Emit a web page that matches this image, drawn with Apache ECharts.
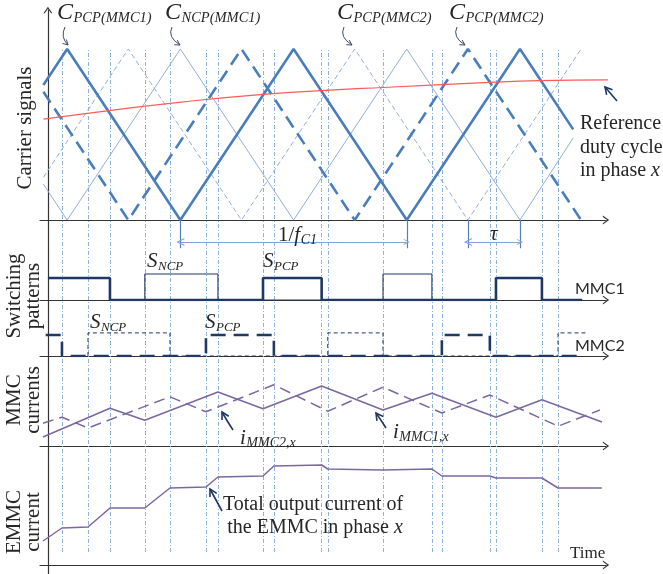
<!DOCTYPE html>
<html><head><meta charset="utf-8">
<script src="https://cdn.jsdelivr.net/npm/echarts@6/dist/echarts.min.js"></script>
<style>html,body{margin:0;padding:0;background:#fff}#c{width:663px;height:574px}</style>
</head><body><div id="c"></div>
<script>
// ---------- DATA (time in % of one carrier period; carrier amplitude 0..1) ----------
const carrierPCP1 = [[-2,0.79],[8.5,1],[58.5,0],[108.5,1],[158.5,0],[208.5,1],[232,0.53]];
const carrierNCP1 = [[-2,0.21],[8.5,0],[58.5,1],[108.5,0],[158.5,1],[208.5,0],[232,0.48]];
const carrierPCP2 = [[-2,0.75],[35.5,0],[85.5,1],[135.5,0],[185.5,1],[235.5,0]];
const carrierNCP2 = [[-2,0.25],[35.5,1],[85.5,0],[135.5,1],[185.5,0],[235.5,1]];
const refDuty     = [[-2,0.59],[27,0.64],[59,0.69],[95,0.735],[125,0.76],[148,0.775],[195,0.805],[217,0.815],[258,0.82]];
const switchTimes = [6.2,17.7,27.4,42.8,53.9,69.8,75.1,95,99.8,120.9,123.6,148,169.6,174,195.2,197.9,218.2,225.3];
const periodMarks = [58.5,158.5];   // 1/fC1
const tauMarks    = [185.5,208.5];  // tau
// switching patterns (0 = off, level = on)
const sPCP1 = [[0,1],[27.4,1],[27.4,0],[95,0],[95,1],[120.9,1],[120.9,0],[197.9,0],[197.9,1],[218.2,1],[218.2,0],[236,0]];
const sNCP1 = [[42.8,0],[42.8,1.18],[75.1,1.18],[75.1,0],[148,0],[148,1.18],[169.6,1.18],[169.6,0]];
const sPCP2 = [[-1,1],[6.2,1],[6.2,0],[69.8,0],[69.8,1],[99.8,1],[99.8,0],[174,0],[174,1],[195.2,1],[195.2,0],[235,0]];
const sNCP2 = [[17.7,0],[17.7,1.1],[53.9,1.1],[53.9,0],[123.6,0],[123.6,1.1],[148,1.1],[148,0],[225.3,0],[225.3,1.1],[238,1.1]];
// MMC currents
const iMMC1 = [[-2.2,0.15],[27.4,0.63],[42.8,0.43],[75.1,0.9],[95,0.62],[120.9,1.0],[148,0.6],[169.6,0.88],[197.9,0.48],[218.2,0.77],[244.7,0.4]];
const iMMC2 = [[-2.2,0.38],[6.2,0.48],[17.7,0.3],[53.9,0.82],[69.8,0.57],[99.8,1.02],[123.6,0.58],[148,0.98],[174,0.55],[195.2,0.85],[225.3,0.33],[243.8,0.6]];
// EMMC output current
const iEMMC = [[-2.2,0.24],[6.2,0.37],[17.7,0.38],[27.4,0.57],[42.8,0.57],[53.9,0.77],[69.8,0.78],[75.1,0.88],[95,0.89],[99.8,0.99],[120.9,1.0],[123.6,0.96],[148,0.95],[169.6,0.96],[174,0.89],[195.2,0.89],[197.9,0.87],[218.2,0.87],[225.3,0.77],[244.7,0.77]];

// ---------- STYLE ----------
const SERIF = "'Liberation Serif','Times New Roman',serif";
const TXT = '#262626', NAVY = '#1f3864', BLUE = '#4a7ebb', LBLUE = '#8fb0dc',
      PURPLE = '#7b68a0', RED = '#ff5a5a', VLINE = '#8db1dd', AXIS = '#333';
const CHEV = 'path://M0,7L5,0L10,7L8.5,7L5,2.2L1.5,7Z';
const tMin = -3.5, tMax = 246.5;

const grids = [
  {left:40,right:57,top:10,height:240},
  {left:40,right:57,top:250,height:50},
  {left:40,right:57,top:300,height:56},
  {left:40,right:57,top:356,height:90},
  {left:40,right:57,top:446,height:128},
  {left:40,right:57,top:50,height:502}
];
const yRanges = [[-0.175,1.228],[0,2.273],[0,2.667],[0,1.5],[-0.09,1.19],[0,1]];

const xAxes = grids.map((g,i)=>({
  type:'value', gridIndex:i, min:tMin, max:tMax, show: i<5,
  axisLine:{show:true,onZero:true,symbol:['none',CHEV],symbolSize:[9,7],lineStyle:{color:AXIS,width:1.2}},
  axisTick:{show:false},axisLabel:{show:false},splitLine:{show:false}
}));
const yAxes = grids.map((g,i)=>({
  type:'value', gridIndex:i, min:yRanges[i][0], max:yRanges[i][1], show: i<5,
  axisLine:{show:true,onZero:true,symbol: i===0?['none',CHEV]:'none',symbolSize:[9,7],lineStyle:{color:AXIS,width:1.2}},
  axisTick:{show:false},axisLabel:{show:false},splitLine:{show:false}
}));

function line(data, gi, ls, extra){
  return Object.assign({type:'line', xAxisIndex:gi, yAxisIndex:gi, data, showSymbol:false, symbol:'none',
    lineStyle:ls, silent:true, z:3}, extra||{});
}

const series = [
  {type:'lines', coordinateSystem:'cartesian2d', xAxisIndex:5, yAxisIndex:5, silent:true, z:1,
   lineStyle:{color:VLINE,width:1,type:[4,2,1,2],opacity:1},
   data: switchTimes.map(t=>({coords:[[t,0],[t,1]]}))},
  line(carrierNCP2,0,{color:LBLUE,width:1,type:[5,3]}),
  line(carrierNCP1,0,{color:LBLUE,width:1}),
  line(carrierPCP2,0,{color:BLUE,width:2.6,type:[13,7]}),
  line(carrierPCP1,0,{color:BLUE,width:2.6}),
  line(refDuty,0,{color:RED,width:1.2},{smooth:true,clip:false}),
  {type:'lines', coordinateSystem:'cartesian2d', xAxisIndex:0, yAxisIndex:0, silent:true, z:2,
   lineStyle:{color:'#5b7db5',width:1.2,opacity:1},
   data: periodMarks.concat(tauMarks).map(t=>({coords:[[t,0],[t,-0.165]]}))},
  {type:'lines', coordinateSystem:'cartesian2d', xAxisIndex:0, yAxisIndex:0, silent:true, z:2,
   symbol:[CHEV,CHEV], symbolSize:[8,6],
   lineStyle:{color:'#7fa3d6',width:1,opacity:1},
   data:[{coords:[[periodMarks[0],-0.128],[periodMarks[1],-0.128]]},{coords:[[tauMarks[0],-0.128],[tauMarks[1],-0.128]]}]},
  line(sNCP1,1,{color:NAVY,width:1.1}),
  line(sPCP1,1,{color:NAVY,width:2.6}),
  line(sNCP2,2,{color:NAVY,width:1,type:[4,3]}),
  line(sPCP2,2,{color:NAVY,width:2.6,type:[15,8]}),
  line(iMMC1,3,{color:PURPLE,width:1.5}),
  line(iMMC2,3,{color:PURPLE,width:1.5,type:[11,6]}),
  line(iEMMC,4,{color:PURPLE,width:1.5})
];

// ---------- ANNOTATIONS ----------
const mctx = document.createElement('canvas').getContext('2d');
function tw(font,s){ mctx.font = font; return mctx.measureText(s).width; }
function txt(s, x, base, size, italic, align){
  const f = (italic?'italic ':'') + size + 'px ' + SERIF;
  return {type:'text', x, y: base - 0.32*size, z:10, style:{text:s, font:f, fill:TXT,
    align: align||'left', textAlign: align||'left', verticalAlign:'middle', textVerticalAlign:'middle'}};
}
function subLabel(x, base, main, sub, ms, ss, mainItalic){
  const mf = ((mainItalic===false)?'':'italic ') + ms + 'px ' + SERIF;
  const w = tw(mf, main);
  return [txt(main, x, base, ms, mainItalic!==false), txt(sub, x + w + 0.5, base + 3, ss, true)];
}
function arrow(x1,y1,cx,cy,x2,y2,color,width,head){
  const dx = x2-cx, dy = y2-cy, L = Math.hypot(dx,dy), ux = dx/L, uy = dy/L;
  const nx = -uy, ny = ux, h = head||6;
  return [
    {type:'bezierCurve', z:10, shape:{x1,y1,x2,y2,cpx1:cx,cpy1:cy}, style:{stroke:color,lineWidth:width,fill:null}},
    {type:'polyline', z:10, shape:{points:[[x2-h*ux+h*0.55*nx, y2-h*uy+h*0.55*ny],[x2,y2],[x2-h*ux-h*0.55*nx, y2-h*uy-h*0.55*ny]]},
     style:{stroke:color,lineWidth:width,fill:null}}
  ];
}
function rot(s, x, y){
  return {type:'text', x, y, rotation:Math.PI/2, z:10, style:{text:s, font:'21px '+SERIF, fill:TXT, lineHeight:19,
    align:'center', textAlign:'center', verticalAlign:'middle', textVerticalAlign:'middle'}};
}

const g = [];
g.push(rot('Carrier signals',25,128), rot('Switching\npatterns',24,296), rot('MMC\ncurrents',24,400), rot('EMMC\ncurrent',24,522));
[[57,'PCP(MMC1)'],[165,'NCP(MMC1)'],[337,'PCP(MMC2)'],[449,'PCP(MMC2)']].forEach(([x,s])=>g.push(...subLabel(x,20,'C',s,24,14.5)));
const AC = '#3b4a68';
g.push(...arrow(65,27,60,37,68,45,AC,1,5), ...arrow(172,27,167,37,180,45,AC,1,5),
       ...arrow(344,27,339,37,352,45,AC,1,5), ...arrow(457,27,452,37,465,45,AC,1,5));
g.push(txt('Reference',580,130,20), txt('duty cycle',580,154,20), txt('in phase ',580,177,20));
g.push(txt('x',580+tw('20px '+SERIF,'in phase '),177,20,true));
g.push(...arrow(617,101,611,94,605,87,NAVY,1.6,7));
// 1/fC1 and tau
{ const a = tw('21px '+SERIF,'1/'), b = tw('italic 21px '+SERIF,'f');
  g.push(txt('1/',278,242,21), txt('f',278+a,242,21,true), txt('C1',278+a+b+0.5,245,14,true)); }
g.push(txt('τ',490,241,21,true));
// switching labels
g.push(...subLabel(147,268,'S','NCP',21,13), ...subLabel(263,268,'S','PCP',21,13),
       ...subLabel(90,329,'S','NCP',21,13), ...subLabel(205,329,'S','PCP',21,13));
const SANS = "Lato,'Liberation Sans',sans-serif";
g.push({type:'text',x:575,y:289,z:10,style:{text:'MMC1',font:'16px '+SANS,fill:TXT,verticalAlign:'middle',textVerticalAlign:'middle'}});
g.push({type:'text',x:575,y:346,z:10,style:{text:'MMC2',font:'16px '+SANS,fill:TXT,verticalAlign:'middle',textVerticalAlign:'middle'}});
// currents labels
g.push(...subLabel(240,445,'i','MMC2,x',21,14), ...subLabel(393,439,'i','MMC1,x',21,14));
g.push(...arrow(233,430,227,421,222,412,NAVY,1.6,7), ...arrow(386,428,381,420,376,413,NAVY,1.6,7));
g.push(txt('Total output current of',313,511,20,false,'center'));
{ const p = 'the EMMC in phase ', w1 = tw('20px '+SERIF,p), w2 = tw('italic 20px '+SERIF,'x'), x0 = 315-(w1+w2)/2;
  g.push(txt(p,x0,534,20), txt('x',x0+w1,534,20,true)); }
g.push(...arrow(222,511,216,500,210,489,NAVY,1.6,7));
g.push(txt('Time',570,559,17));

const chart = echarts.init(document.getElementById('c'), null, {renderer:'canvas'});
chart.setOption({animation:false, backgroundColor:'#fff', grid:grids, xAxis:xAxes, yAxis:yAxes, series, graphic:{elements:g}});
</script></body></html>
